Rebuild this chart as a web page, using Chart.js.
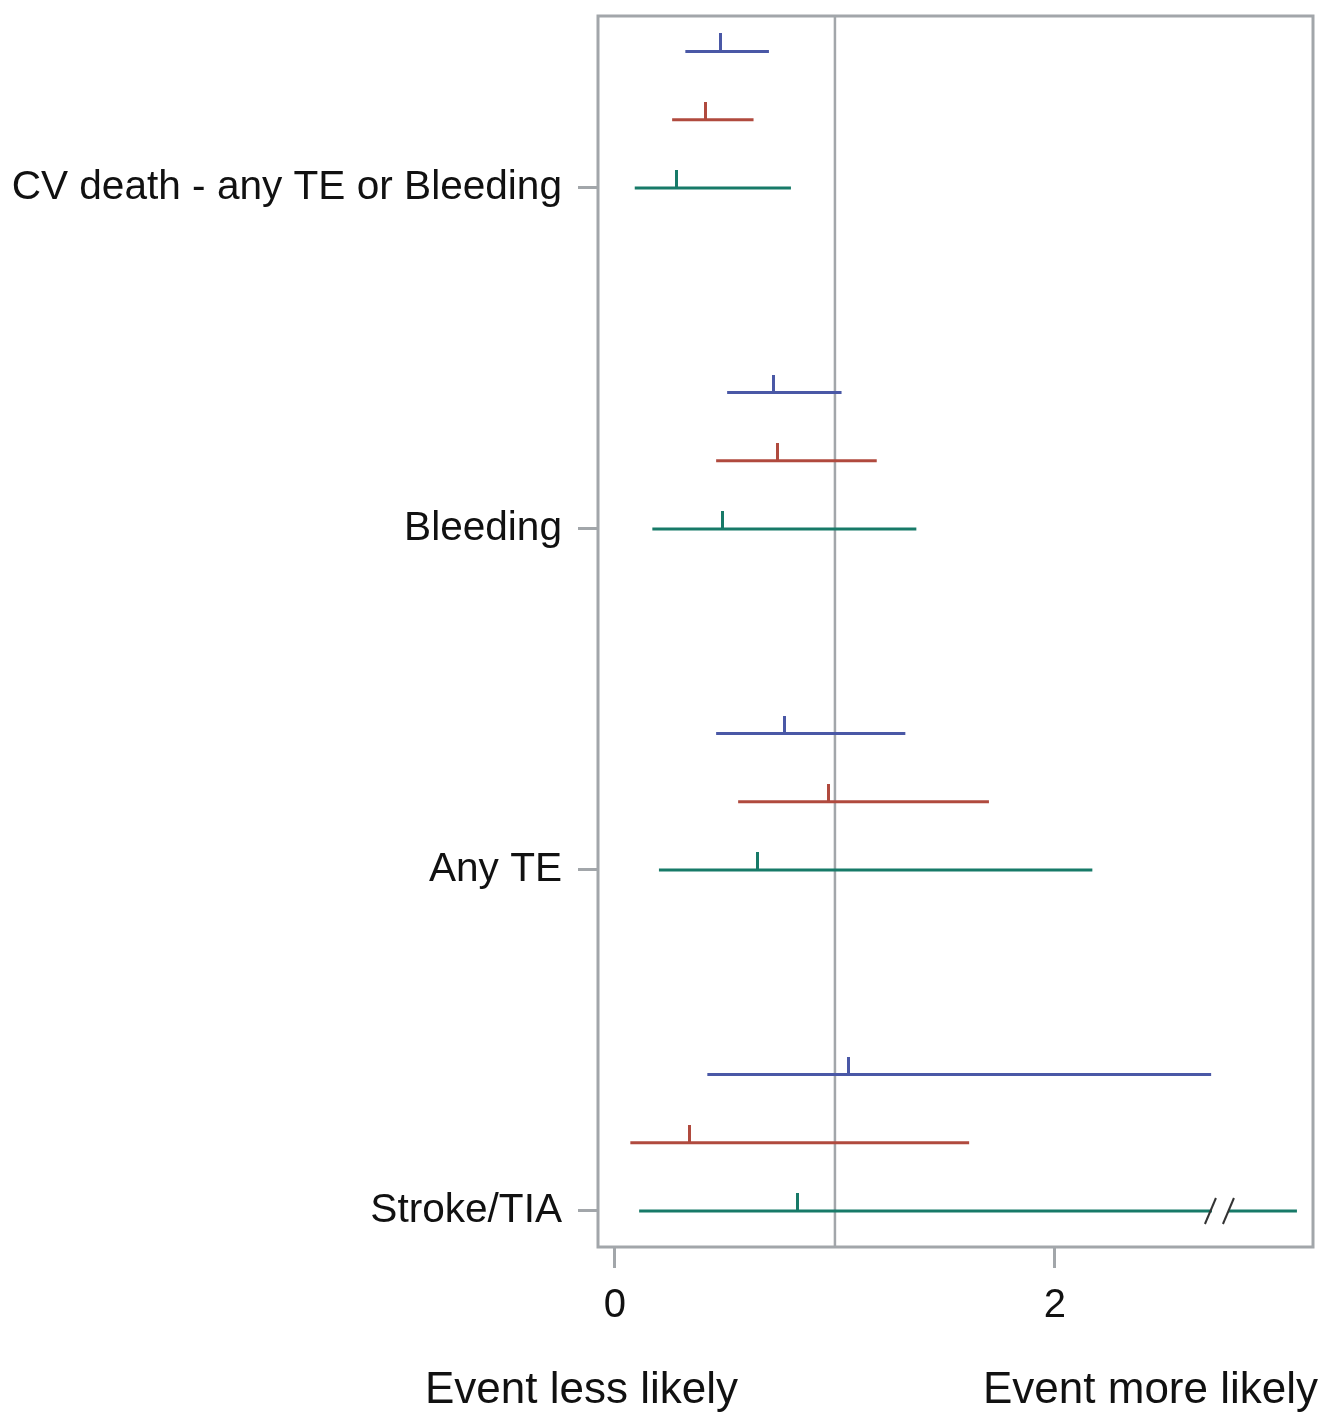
<!DOCTYPE html>
<html>
<head>
<meta charset="utf-8">
<script src="https://cdn.jsdelivr.net/npm/chart.js@4.4.1/dist/chart.umd.min.js"></script>
<style>
  html, body { margin: 0; padding: 0; background: #fff; }
  #wrap { width: 1327px; height: 1416px; }
</style>
</head>
<body>
<div id="wrap"><canvas id="forest"></canvas></div>
<script>
// categories from bottom to top
const categories = ['Stroke/TIA', 'Any TE', 'Bleeding', 'CV death - any TE or Bleeding'];
const xTickValues = [0, 2];

// blue series (top line of each group)
const blueEst = [1.06, 0.77, 0.72, 0.48];
const blueLo  = [0.42, 0.46, 0.51, 0.32];
const blueHi  = [2.71, 1.32, 1.03, 0.70];

// red series (middle line)
const redEst = [0.34, 0.97, 0.74, 0.41];
const redLo  = [0.07, 0.56, 0.46, 0.26];
const redHi  = [1.61, 1.70, 1.19, 0.63];

// green series (bottom line, on the category)
const greenEst = [0.83, 0.65, 0.49, 0.28];
const greenLo  = [0.11, 0.20, 0.17, 0.09];
const greenHi  = [3.10, 2.17, 1.37, 0.80];

const refValue = 1;
const breakValue = 2.75;   // axis break drawn on the long green Stroke/TIA line

const FONT = '"Liberation Sans", Arial, sans-serif';
const frameColor = '#a2a6aa';

const series = [
  { est: blueEst,  lo: blueLo,  hi: blueHi,  color: '#4a58a6', offset: 0.4 },
  { est: redEst,   lo: redLo,   hi: redHi,   color: '#b04a3e', offset: 0.2 },
  { est: greenEst, lo: greenLo, hi: greenHi, color: '#177a68', offset: 0 }
];

// tick-mark image for the point estimate: only the top half is painted,
// so centred on the point it sticks up from the interval line
function tickImage(color) {
  const c = document.createElement('canvas');
  c.width = 3; c.height = 36;
  const g = c.getContext('2d');
  g.fillStyle = color;
  g.fillRect(0, 0, 3, 19);
  return c;
}

const datasets = [];
series.forEach(function(s) {
  categories.forEach(function(cat, i) {
    datasets.push({
      type: 'line',
      data: [{ x: s.lo[i], y: i + s.offset }, { x: s.hi[i], y: i + s.offset }],
      borderColor: s.color,
      borderWidth: 3,
      pointRadius: 0,
      showLine: true,
      fill: false
    });
  });
  datasets.push({
    type: 'scatter',
    data: s.est.map(function(v, i) { return { x: v, y: i + s.offset }; }),
    pointStyle: tickImage(s.color),
    pointRadius: 10
  });
});

const framePlugin = {
  id: 'frame',
  beforeDatasetsDraw(chart) {
    const a = chart.chartArea, ctx = chart.ctx;
    const x = chart.scales.x.getPixelForValue(refValue);
    ctx.save();
    ctx.strokeStyle = frameColor;
    ctx.lineWidth = 2.5;
    ctx.beginPath();
    ctx.moveTo(x, a.top);
    ctx.lineTo(x, a.bottom);
    ctx.stroke();
    ctx.restore();
  },
  afterDatasetsDraw(chart) {
    const a = chart.chartArea, ctx = chart.ctx;
    const xs = chart.scales.x, ys = chart.scales.y;
    ctx.save();
    // axis break on the green Stroke/TIA interval
    const bx = xs.getPixelForValue(breakValue);
    const by = ys.getPixelForValue(0);
    ctx.fillStyle = '#fff';
    ctx.fillRect(bx - 8, by - 3, 16, 6);
    ctx.strokeStyle = '#333';
    ctx.lineWidth = 2;
    [-10, 8].forEach(function(d) {
      ctx.beginPath();
      ctx.moveTo(bx + d - 5, by + 13);
      ctx.lineTo(bx + d + 6, by - 13);
      ctx.stroke();
    });
    // frame round the plot area
    ctx.strokeStyle = frameColor;
    ctx.lineWidth = 3;
    ctx.strokeRect(a.left, a.top, a.right - a.left, a.bottom - a.top);
    // direction labels under the axis
    ctx.fillStyle = '#111';
    ctx.font = '44px ' + FONT;
    ctx.textBaseline = 'alphabetic';
    ctx.textAlign = 'left';
    ctx.fillText('Event less likely', 425, 1403);
    ctx.textAlign = 'right';
    ctx.fillText('Event more likely', 1318, 1403);
    ctx.restore();
  }
};

const ctx = document.getElementById('forest').getContext('2d');
const chart = new Chart(ctx, {
  type: 'scatter',
  data: { datasets: datasets },
  options: {
    responsive: true,
    maintainAspectRatio: false,
    animation: false,
    layout: { padding: { top: 16, right: 14, left: 0, bottom: 0 } },
    plugins: {
      legend: { display: false },
      tooltip: { enabled: false }
    },
    scales: {
      x: {
        type: 'linear',
        min: -0.077,
        max: 3.173,
        afterBuildTicks: function(scale) {
          scale.ticks = xTickValues.map(function(v) { return { value: v }; });
        },
        afterFit: function(scale) {
          scale.height = 169;
          scale.paddingLeft = 0;
          scale.paddingRight = 0;
        },
        grid: { drawOnChartArea: false, drawTicks: true, tickLength: 21, color: frameColor, lineWidth: 3 },
        border: { display: false },
        ticks: {
          color: '#111',
          padding: 14,
          maxRotation: 0,
          font: { family: FONT, size: 40 }
        }
      },
      y: {
        type: 'linear',
        min: -0.1056,
        max: 3.504,
        afterBuildTicks: function(scale) {
          scale.ticks = categories.map(function(c, i) { return { value: i }; });
        },
        afterFit: function(scale) {
          scale.width = 598;
          scale.paddingTop = 0;
          scale.paddingBottom = 0;
        },
        grid: { drawOnChartArea: false, drawTicks: true, tickLength: 20, color: frameColor, lineWidth: 3 },
        border: { display: false },
        ticks: {
          color: '#111',
          padding: 16,
          font: { family: FONT, size: 40.6 },
          callback: function(v) { return categories[v]; }
        }
      }
    }
  },
  plugins: [framePlugin]
});
</script>
</body>
</html>
